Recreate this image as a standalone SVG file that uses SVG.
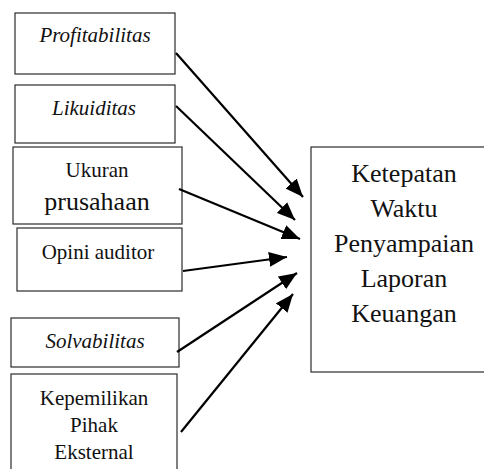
<svg xmlns="http://www.w3.org/2000/svg" width="484" height="469" viewBox="0 0 484 469">
  <style>
    .box { fill: #ffffff; stroke: #2b2b2b; stroke-width: 1.2; }
    .lbl { font-family: "Liberation Serif", "Times New Roman", serif; font-size: 21px; fill: #111; text-anchor: middle; }
    .it { font-style: italic; }
    .big { font-size: 26px; }
    .edge { stroke: #000; stroke-width: 2.2; fill: none; marker-end: url(#head); }
  </style>
  <defs>
    <marker id="head" markerUnits="userSpaceOnUse" markerWidth="19" markerHeight="15" refX="18" refY="7.5" orient="auto">
      <path d="M0,0 L18,7.5 L0,15 Z" fill="#000"/>
    </marker>
  </defs>
  <rect width="484" height="469" fill="#ffffff"/>

  <!-- independent variables (left column) -->
  <g id="profitabilitas">
    <rect class="box" x="15" y="13" width="160" height="61"/>
    <text class="lbl it" x="95" y="42">Profitabilitas</text>
  </g>
  <g id="likuiditas">
    <rect class="box" x="15" y="85" width="160" height="58"/>
    <text class="lbl it" x="94" y="115">Likuiditas</text>
  </g>
  <g id="ukuran-perusahaan">
    <rect class="box" x="13" y="147" width="169" height="77"/>
    <text class="lbl" x="97" y="177">Ukuran</text>
    <text class="lbl big" x="97" y="210">prusahaan</text>
  </g>
  <g id="opini-auditor">
    <rect class="box" x="17" y="228" width="165" height="63"/>
    <text class="lbl" x="98" y="259">Opini auditor</text>
  </g>
  <g id="solvabilitas">
    <rect class="box" x="11" y="318" width="168" height="49"/>
    <text class="lbl it" x="95" y="348">Solvabilitas</text>
  </g>
  <g id="kepemilikan">
    <rect class="box" x="11" y="374" width="166" height="110"/>
    <text class="lbl" x="94" y="405">Kepemilikan</text>
    <text class="lbl" x="94" y="432">Pihak</text>
    <text class="lbl" x="94" y="459">Eksternal</text>
  </g>

  <!-- dependent variable (right) -->
  <g id="ketepatan-waktu">
    <rect class="box" x="311" y="147" width="190" height="225"/>
    <text class="lbl big" x="404" y="182">Ketepatan</text>
    <text class="lbl big" x="404" y="217">Waktu</text>
    <text class="lbl big" x="404" y="252">Penyampaian</text>
    <text class="lbl big" x="404" y="287">Laporan</text>
    <text class="lbl big" x="404" y="322">Keuangan</text>
  </g>

  <g id="connectors">
    <line class="edge" x1="176" y1="53" x2="303" y2="197"/>
    <line class="edge" x1="176" y1="106" x2="295" y2="220"/>
    <line class="edge" x1="179" y1="189" x2="300" y2="239"/>
    <line class="edge" x1="183" y1="271" x2="287" y2="257"/>
    <line class="edge" x1="177" y1="352" x2="297" y2="273"/>
    <line class="edge" x1="181" y1="432" x2="293" y2="294"/>
  </g>
</svg>
